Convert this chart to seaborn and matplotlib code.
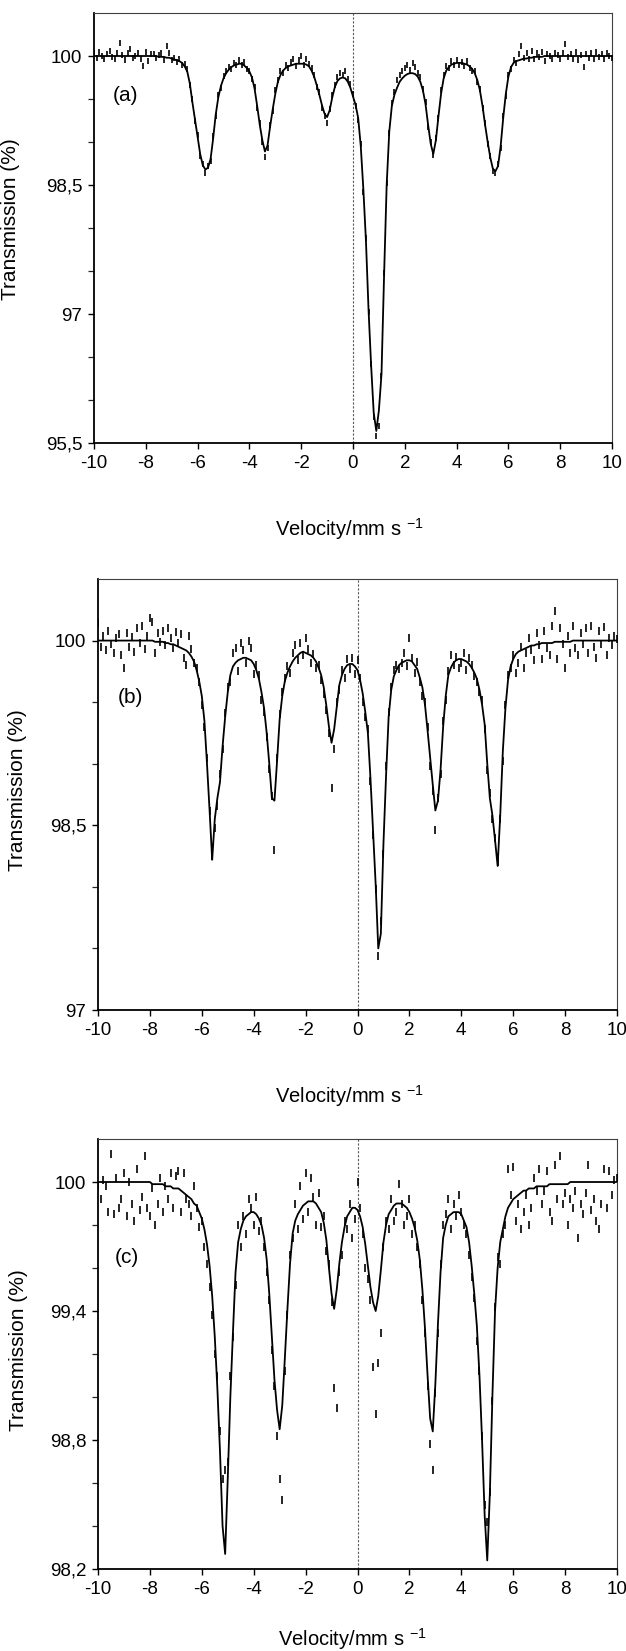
import matplotlib
matplotlib.use("Agg")
import matplotlib.pyplot as plt
import seaborn as sns
from matplotlib.ticker import FixedLocator, FixedFormatter

sns.set_theme(style="ticks")
plt.rcParams['font.family'] = ['Liberation Sans', 'DejaVu Sans']
plt.rcParams['mathtext.fontset'] = 'custom'
plt.rcParams['mathtext.rm'] = 'Liberation Sans'
plt.rcParams['mathtext.it'] = 'Liberation Sans:italic'
plt.rcParams['mathtext.default'] = 'regular'
plt.rcParams['axes.unicode_minus'] = False

# ---------------- data ----------------
VELOCITY = [
    -10.0, -9.9, -9.8, -9.7, -9.6, -9.5, -9.4, -9.3, -9.2, -9.1,
    -9.0, -8.9, -8.8, -8.7, -8.6, -8.5, -8.4, -8.3, -8.2, -8.1,
    -8.0, -7.9, -7.8, -7.7, -7.6, -7.5, -7.4, -7.3, -7.2, -7.1,
    -7.0, -6.9, -6.8, -6.7, -6.6, -6.5, -6.4, -6.3, -6.2, -6.1,
    -6.0, -5.9, -5.8, -5.7, -5.6, -5.5, -5.4, -5.3, -5.2, -5.1,
    -5.0, -4.9, -4.8, -4.7, -4.6, -4.5, -4.4, -4.3, -4.2, -4.1,
    -4.0, -3.9, -3.8, -3.7, -3.6, -3.5, -3.4, -3.3, -3.2, -3.1,
    -3.0, -2.9, -2.8, -2.7, -2.6, -2.5, -2.4, -2.3, -2.2, -2.1,
    -2.0, -1.9, -1.8, -1.7, -1.6, -1.5, -1.4, -1.3, -1.2, -1.1,
    -1.0, -0.9, -0.8, -0.7, -0.6, -0.5, -0.4, -0.3, -0.2, -0.1,
    0.0, 0.1, 0.2, 0.3, 0.4, 0.5, 0.6, 0.7, 0.8, 0.9,
    1.0, 1.1, 1.2, 1.3, 1.4, 1.5, 1.6, 1.7, 1.8, 1.9,
    2.0, 2.1, 2.2, 2.3, 2.4, 2.5, 2.6, 2.7, 2.8, 2.9,
    3.0, 3.1, 3.2, 3.3, 3.4, 3.5, 3.6, 3.7, 3.8, 3.9,
    4.0, 4.1, 4.2, 4.3, 4.4, 4.5, 4.6, 4.7, 4.8, 4.9,
    5.0, 5.1, 5.2, 5.3, 5.4, 5.5, 5.6, 5.7, 5.8, 5.9,
    6.0, 6.1, 6.2, 6.3, 6.4, 6.5, 6.6, 6.7, 6.8, 6.9,
    7.0, 7.1, 7.2, 7.3, 7.4, 7.5, 7.6, 7.7, 7.8, 7.9,
    8.0, 8.1, 8.2, 8.3, 8.4, 8.5, 8.6, 8.7, 8.8, 8.9,
    9.0, 9.1, 9.2, 9.3, 9.4, 9.5, 9.6, 9.7, 9.8, 9.9,
    10.0,
]

# panel (a): fitted curve and measured transmission (%)
FIT_A = [
    100.00, 100.00, 100.00, 100.00, 100.00, 100.00, 100.00, 100.00, 100.00, 100.00,
    100.00, 100.00, 100.00, 100.00, 100.00, 100.00, 100.00, 100.00, 100.00, 100.00,
    100.00, 100.00, 100.00, 100.00, 100.00, 99.99, 99.99, 99.99, 99.98, 99.98,
    99.97, 99.96, 99.95, 99.94, 99.92, 99.88, 99.82, 99.68, 99.46, 99.26,
    99.06, 98.86, 98.73, 98.68, 98.70, 98.80, 99.04, 99.32, 99.52, 99.65,
    99.74, 99.80, 99.84, 99.87, 99.89, 99.90, 99.91, 99.91, 99.89, 99.86,
    99.82, 99.75, 99.62, 99.42, 99.20, 99.02, 98.89, 98.96, 99.18, 99.38,
    99.56, 99.70, 99.78, 99.83, 99.86, 99.88, 99.89, 99.90, 99.91, 99.91,
    99.91, 99.91, 99.90, 99.88, 99.83, 99.76, 99.66, 99.55, 99.43, 99.33,
    99.29, 99.37, 99.52, 99.64, 99.71, 99.74, 99.75, 99.74, 99.70, 99.63,
    99.53, 99.43, 99.28, 98.95, 98.45, 97.85, 97.05, 96.40, 95.85, 95.64,
    95.88, 96.30, 97.45, 98.50, 99.12, 99.42, 99.55, 99.63, 99.70, 99.74,
    99.77, 99.79, 99.80, 99.80, 99.79, 99.76, 99.70, 99.60, 99.44, 99.20,
    98.98, 98.86, 99.02, 99.30, 99.56, 99.74, 99.83, 99.87, 99.90, 99.91,
    99.92, 99.92, 99.92, 99.91, 99.90, 99.88, 99.85, 99.80, 99.72, 99.60,
    99.42, 99.20, 99.00, 98.82, 98.69, 98.66, 98.72, 98.95, 99.28, 99.56,
    99.76, 99.87, 99.92, 99.94, 99.95, 99.96, 99.97, 99.97, 99.98, 99.98,
    99.99, 99.99, 99.99, 99.99, 100.00, 100.00, 100.00, 100.00, 100.00, 100.00,
    100.00, 100.00, 100.00, 100.00, 100.00, 100.00, 100.00, 100.00, 100.00, 100.00,
    100.00, 100.00, 100.00, 100.00, 100.00, 100.00, 100.00, 100.00, 100.00, 100.00,
    100.00,
]
DATA_A = [
    100.03, 99.98, 100.05, 100.00, 99.96, 100.02, 100.06, 99.99, 99.97, 100.04,
    100.15, 100.01, 99.95, 100.03, 100.08, 99.98, 100.00, 100.04, 99.97, 99.88,
    100.05, 99.94, 100.02, 100.02, 99.98, 100.01, 100.04, 99.95, 100.12, 100.03,
    99.95, 99.98, 99.93, 99.96, 99.90, 99.91, 99.85, 99.66, 99.50, 99.24,
    99.08, 98.84, 98.75, 98.64, 98.72, 98.78, 99.07, 99.30, 99.55, 99.63,
    99.77, 99.82, 99.87, 99.85, 99.92, 99.89, 99.95, 99.90, 99.93, 99.85,
    99.83, 99.73, 99.64, 99.40, 99.22, 99.00, 98.82, 98.93, 99.20, 99.36,
    99.60, 99.72, 99.82, 99.80, 99.90, 99.86, 99.93, 99.97, 99.88, 99.95,
    100.00, 99.90, 99.96, 99.91, 99.86, 99.78, 99.64, 99.58, 99.40, 99.30,
    99.22, 99.38, 99.55, 99.66, 99.76, 99.80, 99.78, 99.82, 99.73, 99.68,
    99.56, 99.42, 99.26, 98.98, 98.42, 97.88, 97.02, 96.42, 95.80, 95.58,
    95.70, 96.28, 97.48, 98.52, 99.10, 99.45, 99.58, 99.72, 99.78, 99.83,
    99.86, 99.90, 99.84, 99.92, 99.87, 99.80, 99.76, 99.62, 99.46, 99.18,
    99.00, 98.85, 99.05, 99.28, 99.60, 99.78, 99.88, 99.86, 99.94, 99.90,
    99.95, 99.89, 99.93, 99.88, 99.94, 99.86, 99.83, 99.82, 99.70, 99.62,
    99.40, 99.22, 98.98, 98.84, 98.66, 98.64, 98.74, 98.93, 99.30, 99.54,
    99.78, 99.85, 99.95, 99.92, 100.02, 100.12, 99.98, 100.04, 99.96, 100.06,
    99.97, 100.03, 99.99, 100.05, 99.94, 100.02, 100.00, 99.97, 100.04, 100.01,
    99.96, 100.03, 100.14, 99.99, 100.02, 99.97, 100.05, 99.95, 100.01, 99.87,
    100.02, 99.98, 100.03, 99.96, 100.05, 99.99, 100.02, 99.96, 100.03, 100.00,
    99.98,
]

# panel (b)
FIT_B = [
    100.00, 100.00, 100.00, 100.00, 100.00, 100.00, 100.00, 100.00, 100.00, 100.00,
    100.00, 100.00, 100.00, 100.00, 100.00, 100.00, 100.00, 100.00, 100.00, 100.00,
    100.00, 100.00, 99.99, 99.99, 99.99, 99.99, 99.98, 99.98, 99.97, 99.97,
    99.96, 99.95, 99.94, 99.93, 99.92, 99.90, 99.87, 99.83, 99.76, 99.67,
    99.55, 99.35, 99.00, 98.62, 98.22, 98.55, 98.72, 98.85, 99.14, 99.38,
    99.58, 99.72, 99.79, 99.82, 99.84, 99.85, 99.86, 99.86, 99.85, 99.84,
    99.81, 99.76, 99.69, 99.58, 99.45, 99.25, 99.00, 98.72, 98.70, 99.02,
    99.36, 99.55, 99.67, 99.74, 99.79, 99.83, 99.86, 99.88, 99.90, 99.91,
    99.90, 99.89, 99.88, 99.86, 99.83, 99.78, 99.72, 99.62, 99.47, 99.30,
    99.17, 99.28, 99.46, 99.64, 99.72, 99.77, 99.80, 99.81, 99.81, 99.79,
    99.76, 99.68, 99.57, 99.42, 99.25, 98.88, 98.45, 98.02, 97.50, 97.62,
    98.35, 98.90, 99.38, 99.60, 99.71, 99.76, 99.80, 99.82, 99.83, 99.84,
    99.84, 99.83, 99.80, 99.77, 99.70, 99.62, 99.48, 99.27, 99.05, 98.83,
    98.62, 98.70, 98.95, 99.30, 99.55, 99.72, 99.78, 99.82, 99.84, 99.85,
    99.85, 99.84, 99.83, 99.81, 99.78, 99.74, 99.69, 99.60, 99.48, 99.32,
    99.00, 98.72, 98.58, 98.38, 98.17, 98.58, 99.10, 99.45, 99.68, 99.79,
    99.85, 99.89, 99.91, 99.92, 99.93, 99.94, 99.95, 99.96, 99.96, 99.97,
    99.97, 99.98, 99.98, 99.98, 99.98, 99.98, 99.99, 99.99, 99.99, 99.99,
    99.99, 99.99, 99.99, 100.00, 100.00, 100.00, 100.00, 100.00, 100.00, 100.00,
    100.00, 100.00, 100.00, 100.00, 100.00, 100.00, 100.00, 100.00, 100.00, 100.00,
    100.00,
]
DATA_B = [
    100.14, 99.95, 100.04, 99.92, 100.08, 99.97, 99.90, 100.02, 100.05, 99.88,
    99.78, 100.06, 99.95, 100.03, 99.91, 100.10, 99.98, 100.12, 99.93, 100.04,
    100.18, 100.15, 99.90, 100.06, 99.99, 100.08, 99.96, 100.10, 100.02, 99.94,
    100.07, 99.98, 100.05, 99.86, 99.80, 100.04, 99.93, 99.82, 99.78, 99.66,
    99.48, 99.30, 99.05, 98.62, 98.25, 98.48, 98.66, 98.92, 99.12, 99.41,
    99.62, 99.66, 99.90, 99.94, 99.75, 99.98, 99.92, 99.82, 100.00, 99.94,
    99.73, 99.80, 99.72, 99.52, 99.42, 99.22, 98.96, 98.74, 98.30, 99.05,
    99.40, 99.58, 99.70, 99.79, 99.74, 99.90, 99.96, 99.84, 99.98, 99.88,
    100.02, 99.93, 99.82, 99.89, 99.78, 99.80, 99.68, 99.57, 99.44, 99.25,
    98.80, 99.12, 99.50, 99.60, 99.76, 99.70, 99.85, 99.77, 99.86, 99.73,
    99.84, 99.70, 99.50, 99.38, 99.28, 98.86, 98.42, 97.98, 97.44, 97.72,
    98.27, 98.98, 99.42, 99.62, 99.76, 99.80, 99.77, 99.82, 99.90, 99.79,
    100.02, 99.86, 99.74, 99.83, 99.66, 99.55, 99.50, 99.30, 98.98, 98.78,
    98.46, 98.72, 98.92, 99.35, 99.52, 99.75, 99.88, 99.80, 99.87, 99.78,
    99.82, 99.90, 99.76, 99.86, 99.80, 99.71, 99.66, 99.58, 99.52, 99.28,
    98.95, 98.76, 98.55, 98.40, 98.20, 98.55, 99.02, 99.48, 99.72, 99.78,
    99.88, 99.74, 99.82, 99.95, 99.78, 99.90, 100.02, 99.92, 99.84, 100.06,
    99.96, 99.85, 100.08, 99.94, 99.88, 100.12, 100.24, 99.85, 100.10, 99.97,
    99.78, 100.04, 99.90, 100.12, 99.94, 99.88, 100.06, 99.97, 100.10, 99.90,
    100.12, 99.95, 99.86, 100.08, 99.97, 100.11, 99.88, 100.02, 99.96, 100.04,
    100.01,
]

# panel (c)
FIT_C = [
    100.00, 100.00, 100.00, 100.00, 100.00, 100.00, 100.00, 100.00, 100.00, 100.00,
    100.00, 100.00, 100.00, 100.00, 100.00, 100.00, 100.00, 100.00, 100.00, 100.00,
    100.00, 99.99, 99.99, 99.99, 99.99, 99.99, 99.98, 99.98, 99.98, 99.97,
    99.97, 99.97, 99.96, 99.95, 99.94, 99.93, 99.92, 99.90, 99.89, 99.86,
    99.83, 99.78, 99.71, 99.61, 99.47, 99.28, 99.04, 98.75, 98.40, 98.27,
    98.62, 99.00, 99.30, 99.58, 99.72, 99.78, 99.82, 99.84, 99.85, 99.86,
    99.86, 99.85, 99.83, 99.80, 99.74, 99.64, 99.48, 99.28, 99.08, 98.94,
    98.85, 98.96, 99.18, 99.41, 99.62, 99.76, 99.82, 99.85, 99.87, 99.89,
    99.90, 99.91, 99.91, 99.91, 99.90, 99.88, 99.86, 99.81, 99.73, 99.60,
    99.48, 99.41, 99.50, 99.62, 99.72, 99.79, 99.84, 99.86, 99.88, 99.88,
    99.87, 99.84, 99.79, 99.71, 99.61, 99.51, 99.44, 99.40, 99.47, 99.59,
    99.72, 99.80, 99.85, 99.87, 99.89, 99.90, 99.90, 99.90, 99.89, 99.88,
    99.86, 99.83, 99.79, 99.73, 99.64, 99.50, 99.32, 99.10, 98.90, 98.84,
    99.06, 99.34, 99.58, 99.74, 99.80, 99.84, 99.85, 99.86, 99.86, 99.86,
    99.85, 99.82, 99.79, 99.72, 99.61, 99.48, 99.33, 99.10, 98.80, 98.45,
    98.24, 98.55, 99.01, 99.40, 99.60, 99.72, 99.78, 99.84, 99.88, 99.90,
    99.92, 99.93, 99.94, 99.95, 99.96, 99.96, 99.97, 99.97, 99.97, 99.98,
    99.98, 99.98, 99.98, 99.98, 99.99, 99.99, 99.99, 99.99, 99.99, 99.99,
    99.99, 99.99, 100.00, 100.00, 100.00, 100.00, 100.00, 100.00, 100.00, 100.00,
    100.00, 100.00, 100.00, 100.00, 100.00, 100.00, 100.00, 100.00, 100.00, 100.00,
    100.00,
]
DATA_C = [
    99.98, 99.92, 100.01, 99.98, 99.86, 100.13, 99.85, 100.02, 99.88, 99.92,
    100.04, 99.84, 100.00, 99.90, 99.82, 100.06, 99.87, 99.93, 100.12, 99.88,
    99.84, 99.97, 99.80, 99.90, 100.02, 99.86, 99.98, 99.92, 100.04, 99.88,
    100.03, 100.05, 99.86, 100.04, 99.92, 99.90, 99.84, 99.98, 99.88, 99.79,
    99.82, 99.70, 99.62, 99.51, 99.38, 99.20, 99.10, 98.84, 98.62, 98.66,
    98.70, 99.10, 99.28, 99.52, 99.80, 99.70, 99.84, 99.76, 99.92, 99.88,
    99.80, 99.93, 99.77, 99.82, 99.70, 99.58, 99.45, 99.22, 99.05, 98.82,
    98.62, 98.52, 99.12, 99.38, 99.66, 99.74, 99.90, 99.78, 99.98, 99.83,
    100.04, 99.86, 100.02, 99.93, 99.80, 99.95, 99.79, 99.84, 99.68, 99.62,
    99.44, 99.04, 98.95, 99.58, 99.66, 99.82, 99.78, 99.90, 99.74, 99.83,
    100.00, 99.88, 99.76, 99.60, 99.55, 99.45, 99.14, 98.92, 99.16, 99.30,
    99.70, 99.82, 99.78, 99.92, 99.82, 99.86, 99.99, 99.90, 99.80, 99.84,
    99.92, 99.76, 99.80, 99.70, 99.62, 99.45, 99.30, 99.05, 98.78, 98.66,
    99.02, 99.30, 99.62, 99.80, 99.85, 99.92, 99.78, 99.90, 99.84, 99.94,
    99.86, 99.80, 99.76, 99.66, 99.56, 99.46, 99.26, 99.12, 98.82, 98.50,
    98.42, 98.56, 98.98, 99.42, 99.65, 99.62, 99.76, 99.80, 100.06, 99.94,
    100.07, 99.82, 99.90, 99.78, 99.86, 99.94, 99.80, 99.88, 100.02, 99.96,
    100.06, 99.90, 99.96, 100.05, 99.86, 99.82, 100.08, 99.92, 100.12, 99.90,
    99.95, 99.80, 99.92, 99.88, 99.96, 99.74, 99.90, 99.85, 99.95, 100.08,
    99.87, 99.92, 99.82, 99.78, 99.90, 100.06, 99.88, 100.05, 99.94, 100.01,
    100.02,
]

X_TICKS = [-10, -8, -6, -4, -2, 0, 2, 4, 6, 8, 10]
X_TICK_LABELS = ["-10", "-8", "-6", "-4", "-2", "0", "2", "4", "6", "8", "10"]

Y_TICKS_A = [95.5, 97.0, 98.5, 100.0]
Y_LABELS_A = ["95,5", "97", "98,5", "100"]
Y_MINOR_A = [96.0, 96.5, 97.5, 98.0, 99.0, 99.5]
Y_TICKS_B = [97.0, 98.5, 100.0]
Y_LABELS_B = ["97", "98,5", "100"]
Y_MINOR_B = [97.5, 98.0, 99.0, 99.5]
Y_TICKS_C = [98.2, 98.8, 99.4, 100.0]
Y_LABELS_C = ["98,2", "98,8", "99,4", "100"]
Y_MINOR_C = [98.4, 98.6, 99.0, 99.2, 99.6, 99.8]

PANEL_TAGS = ["(a)", "(b)", "(c)"]
X_LABEL = r"Velocity/mm s $^{-1}$"
Y_LABEL = "Transmission (%)"

# ---------------- figure ----------------
W, H = 626, 1651
fig = plt.figure(figsize=(W / 100, H / 100), dpi=100)

panels = [
    dict(rect=(94, 13, 612, 443), fit=FIT_A, data=DATA_A, ylim=(95.5, 100.5),
         yt=Y_TICKS_A, yl=Y_LABELS_A, ym=Y_MINOR_A, tag=PANEL_TAGS[0],
         tagpos=(-9.27, 99.54), s=14, xlab=(0.492, -0.170), ylab=(-0.142, 0.52)),
    dict(rect=(98, 579, 617, 1010), fit=FIT_B, data=DATA_B, ylim=(97.0, 100.5),
         yt=Y_TICKS_B, yl=Y_LABELS_B, ym=Y_MINOR_B, tag=PANEL_TAGS[1],
         tagpos=(-9.25, 99.54), s=30, xlab=(0.485, -0.170), ylab=(-0.137, 0.51)),
    dict(rect=(98, 1139, 617, 1569), fit=FIT_C, data=DATA_C, ylim=(98.2, 100.2),
         yt=Y_TICKS_C, yl=Y_LABELS_C, ym=Y_MINOR_C, tag=PANEL_TAGS[2],
         tagpos=(-9.35, 99.65), s=30, xlab=(0.49, -0.133), ylab=(-0.134, 0.51)),
]

for p in panels:
    l, t, r, b = p['rect']
    ax = fig.add_axes([l / W, 1 - b / H, (r - l) / W, (b - t) / H])
    sns.lineplot(x=VELOCITY, y=p['fit'], ax=ax, color='black', linewidth=1.3,
                 estimator=None, sort=False, legend=False)
    sns.scatterplot(x=VELOCITY, y=p['data'], ax=ax, marker='|', s=p['s'],
                    color='black', linewidth=1.2, legend=False, zorder=3)
    ax.axvline(0, color='0.35', linewidth=0.8, linestyle=(0, (2, 1.5)), zorder=1)

    ax.set_xlim(-10, 10)
    ax.set_ylim(*p['ylim'])
    ax.xaxis.set_major_locator(FixedLocator(X_TICKS))
    ax.xaxis.set_major_formatter(FixedFormatter(X_TICK_LABELS))
    ax.yaxis.set_major_locator(FixedLocator(p['yt']))
    ax.yaxis.set_major_formatter(FixedFormatter(p['yl']))
    ax.yaxis.set_minor_locator(FixedLocator(p['ym']))

    ax.tick_params(axis='both', which='major', direction='out', length=4,
                   width=1.0, labelsize=13.5, pad=4.5, colors='black')
    ax.tick_params(axis='y', which='minor', direction='out', length=4, width=0.9)
    ax.tick_params(axis='x', which='minor', bottom=False)

    for side in ['left', 'bottom']:
        ax.spines[side].set_linewidth(1.3)
        ax.spines[side].set_color('black')
    for side in ['top', 'right']:
        ax.spines[side].set_visible(True)
        ax.spines[side].set_linewidth(0.8)
        ax.spines[side].set_color('0.25')

    ax.set_xlabel(X_LABEL, fontsize=14.5, color='black')
    ax.set_ylabel(Y_LABEL, fontsize=15, color='black')
    ax.xaxis.set_label_coords(*p['xlab'])
    ax.yaxis.set_label_coords(*p['ylab'])
    ax.text(p['tagpos'][0], p['tagpos'][1], p['tag'], fontsize=15,
            ha='left', va='center', color='black')
    ax.set_facecolor('white')

fig.savefig("out.png", dpi=100, facecolor='white')
